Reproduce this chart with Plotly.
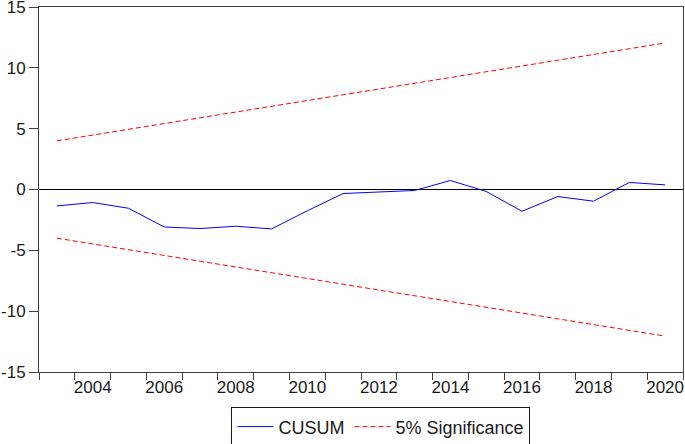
import plotly.graph_objects as go

years = list(range(2003, 2021))
cusum = [-1.35, -1.07, -1.54, -3.08, -3.21, -3.02, -3.24, -1.75, -0.33, -0.19,
         -0.08, 0.74, -0.16, -1.79, -0.58, -0.96, 0.58, 0.38]
upper = [4.00, 4.47, 4.95, 5.42, 5.89, 6.37, 6.84, 7.31, 7.79, 8.26,
         8.73, 9.21, 9.68, 10.15, 10.63, 11.10, 11.57, 12.05]
lower = [-4.00, -4.47, -4.95, -5.42, -5.89, -6.37, -6.84, -7.31, -7.79, -8.26,
         -8.73, -9.21, -9.68, -10.15, -10.63, -11.10, -11.57, -12.05]
x_labels = [2004, 2006, 2008, 2010, 2012, 2014, 2016, 2018, 2020]
y_ticks = [-15, -10, -5, 0, 5, 10, 15]
y_ticktext = ["-15", "-10", "-5", "0", "5", "10", "15"]

FONT = "Liberation Sans, Arial, sans-serif"
AX = "#404040"

fig = go.Figure()
fig.add_trace(go.Scatter(x=years, y=cusum, mode="lines", name="CUSUM",
                         line=dict(color="#0000FF", width=1)))
fig.add_trace(go.Scatter(x=years, y=upper, mode="lines", name="5% Significance",
                         line=dict(color="#FF0000", width=1, dash="5px,3px")))
fig.add_trace(go.Scatter(x=years, y=lower, mode="lines", name="5% Significance",
                         showlegend=False,
                         line=dict(color="#FF0000", width=1, dash="5px,3px")))

fig.update_layout(
    width=685, height=444,
    margin=dict(l=39, r=2, t=7, b=72, autoexpand=False),
    paper_bgcolor="white", plot_bgcolor="white",
    font=dict(family=FONT, size=17, color="#1a1a1a"),
    showlegend=True,
    legend=dict(orientation="h", x=0.531, xanchor="center", y=-0.097, yanchor="top",
                bordercolor="#1a1a1a", borderwidth=1, bgcolor="white",
                font=dict(size=18), itemwidth=36),
    xaxis=dict(range=[2002.5, 2020.5], tickmode="array", tickvals=x_labels,
               ticktext=[str(v) for v in x_labels], ticks="", showgrid=False,
               zeroline=False, showline=True, linecolor=AX, linewidth=1,
               mirror=True, automargin=False, ticklabeloverflow="allow",
               minor=dict(tickmode="array",
                          tickvals=[y - 0.5 for y in years] + [2020.5],
                          ticks="outside", ticklen=7, tickcolor=AX,
                          showgrid=False)),
    yaxis=dict(range=[-15, 15.0001], tickmode="array", tickvals=y_ticks,
               ticktext=y_ticktext, ticklabeloverflow="allow",
               ticks="outside", ticklen=9, tickcolor=AX, showgrid=False,
               zeroline=True, zerolinecolor="#000000", zerolinewidth=1,
               showline=True, linecolor=AX, linewidth=1, mirror=True,
               automargin=False),
)

fig.write_html("out.html", config={"displayModeBar": False},
               post_script="document.body.style.margin='0';document.body.style.padding='0';")
